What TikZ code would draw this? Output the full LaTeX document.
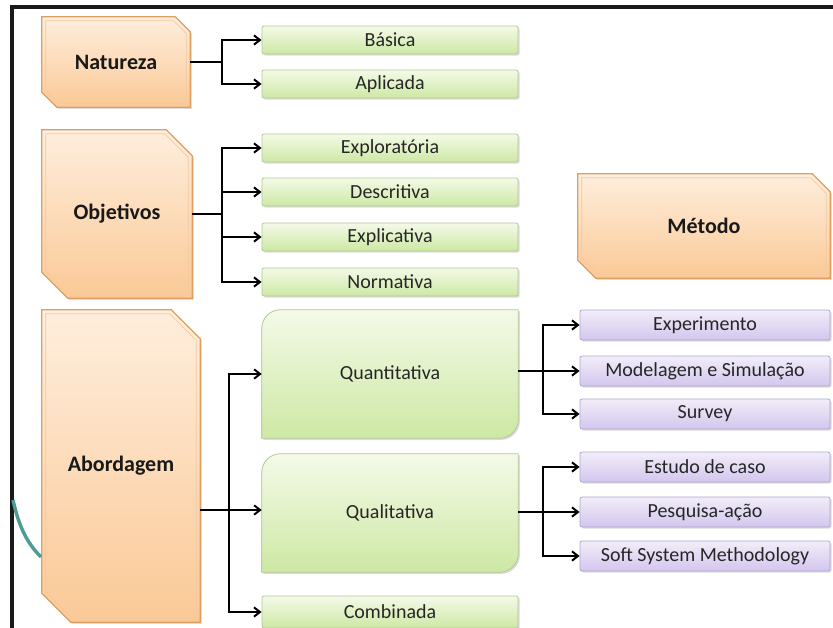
\documentclass[tikz,border=0pt]{standalone}
\usepackage{fontspec}
\setmainfont{Carlito}
\usetikzlibrary{arrows.meta,shadows,backgrounds,calc}
\definecolor{orTop}{HTML}{FEEEDD}
\definecolor{orBot}{HTML}{FBC996}
\definecolor{orLine}{HTML}{DDA063}
\definecolor{orIn}{HTML}{F3C9A0}
\definecolor{grTop}{HTML}{F4FAE8}
\definecolor{grBot}{HTML}{CDE8A4}
\definecolor{grLine}{HTML}{B2C994}
\definecolor{puTop}{HTML}{F2EDF9}
\definecolor{puBot}{HTML}{D3C6EE}
\definecolor{puLine}{HTML}{B1A6CC}
\definecolor{txt}{HTML}{262626}
\definecolor{arcTeal}{HTML}{4F9C97}
\begin{document}
\begin{tikzpicture}[x=0.75pt,y=-0.75pt,
  softshadow/.style={drop shadow={opacity=0.28,shadow xshift=1.2pt,shadow yshift=-1.2pt}},
  catbox/.style={rectangle, draw=none, inner sep=0pt,
    font=\bfseries\fontsize{16.5}{19}\selectfont, text=black!90},
  grbox/.style={rectangle, rounded corners=1.5pt, top color=grTop, bottom color=grBot,
    draw=grLine, line width=0.6pt, softshadow, inner sep=0pt,
    minimum width=256*0.75pt, minimum height=28*0.75pt,
    font=\fontsize{15}{18}\selectfont, text=txt},
  bigbox/.style={rectangle, draw=none, inner sep=0pt, minimum width=256*0.75pt,
    font=\fontsize{15}{18}\selectfont, text=txt},
  pubox/.style={rectangle, rounded corners=1.5pt, top color=puTop, bottom color=puBot,
    draw=puLine, line width=0.6pt, softshadow, inner sep=0pt,
    minimum width=250*0.75pt, minimum height=30*0.75pt,
    font=\fontsize{15}{18}\selectfont, text=txt},
  conn/.style={line width=1.5pt, black},
  arr/.style={conn, -{Straight Barb[length=4.5pt,width=7pt]}}
]
\useasboundingbox (0,0) rectangle (833,628);

% frame and arc
\draw[line width=2.3pt, black!90] (12,630) -- (12,7) -- (835,7);
\draw[line width=2.6pt, arcTeal] (13,500) .. controls (19,527) and (27,543) .. (41,557);

% category boxes
\node[catbox, minimum width=148*0.75pt, minimum height=90*0.75pt] (nat) at (116,62) {Natureza};
\node[catbox, minimum width=150*0.75pt, minimum height=168*0.75pt] (obj) at (117,214) {Objetivos};
\node[catbox, minimum width=158*0.75pt, minimum height=312*0.75pt] (abo) at (121,466) {Abordagem};
\node[catbox, minimum width=252*0.75pt, minimum height=104*0.75pt] (met) at (704,226) {Método};

% green boxes
\node[grbox] (bas) at (390,40) {Básica};
\node[grbox] (apl) at (390,84) {Aplicada};
\node[grbox] (exr) at (390,148) {Exploratória};
\node[grbox] (des) at (390,192) {Descritiva};
\node[grbox] (exl) at (390,237) {Explicativa};
\node[grbox] (nor) at (390,282) {Normativa};
\node[bigbox, minimum height=128*0.75pt] (qnt) at (390,374) {Quantitativa};
\node[bigbox, minimum height=118*0.75pt] (qlt) at (390,513) {Qualitativa};
\node[grbox, minimum height=32*0.75pt] (com) at (390,612) {Combinada};

\begin{pgfonlayer}{background}
\foreach \b/\c in {nat/15,obj/26,abo/29,met/18}{
  \path[softshadow, top color=orTop, bottom color=orBot, draw=orLine, line width=1pt]
    (\b.north west) -- ($(\b.north east)+(-\c,0)$) -- ($(\b.north east)+(0,\c)$)
    -- (\b.south east) -- ($(\b.south west)+(\c,0)$) -- ($(\b.south west)+(0,-\c)$) -- cycle;
  \draw[orIn, line width=0.6pt]
    ($(\b.north west)+(4,4)$) -- ($(\b.north east)+(-\c-1.7,4)$) -- ($(\b.north east)+(-4,\c+1.7)$)
    -- ($(\b.south east)+(-4,-4)$) -- ($(\b.south west)+(\c+1.7,-4)$) -- ($(\b.south west)+(4,-\c-1.7)$) -- cycle;
}
\foreach \b in {qnt,qlt}{
  \path[softshadow, top color=grTop, bottom color=grBot, draw=grLine, line width=0.6pt]
    (\b.west) [rounded corners=14pt] -- (\b.north west) -- (\b.north) [sharp corners]
    -- (\b.north east) -- (\b.east) [rounded corners=14pt] -- (\b.south east)
    -- (\b.south) [sharp corners] -- (\b.south west) -- cycle;
}
\end{pgfonlayer}

% purple boxes
\node[pubox] (ex) at (705,325) {Experimento};
\node[pubox] (mo) at (705,371) {Modelagem e Simulação};
\node[pubox] (su) at (705,414) {Survey};
\node[pubox] (ec) at (705,467) {Estudo de caso};
\node[pubox] (pa) at (705,512) {Pesquisa-ação};
\node[pubox] (ss) at (705,556) {Soft System Methodology};

% connectors
\coordinate (jn) at (222,62);
\draw[conn] (nat.east) -- (jn);
\draw[arr] (jn) |- (bas.west);
\draw[arr] (jn) |- (apl.west);

\coordinate (jo) at (222,214);
\draw[conn] (obj.east) -- (jo);
\draw[arr] (jo) |- (exr.west);
\draw[arr] (jo) |- (des.west);
\draw[arr] (jo) |- (exl.west);
\draw[arr] (jo) |- (nor.west);

\coordinate (ja) at (229,510);
\draw[conn] (abo.east |- ja) -- (ja);
\draw[arr] (ja) |- (qnt.west);
\draw[arr] (ja) -- (ja -| qlt.west);
\draw[arr] (ja) |- (com.west);

\coordinate (jq) at (543,371);
\draw[conn] (qnt.east |- jq) -- (jq);
\draw[arr] (jq) |- (ex.west);
\draw[arr] (jq) -- (mo.west);
\draw[arr] (jq) |- (su.west);

\coordinate (jl) at (543,512);
\draw[conn] (qlt.east |- jl) -- (jl);
\draw[arr] (jl) |- (ec.west);
\draw[arr] (jl) -- (pa.west);
\draw[arr] (jl) |- (ss.west);
\end{tikzpicture}
\end{document}
